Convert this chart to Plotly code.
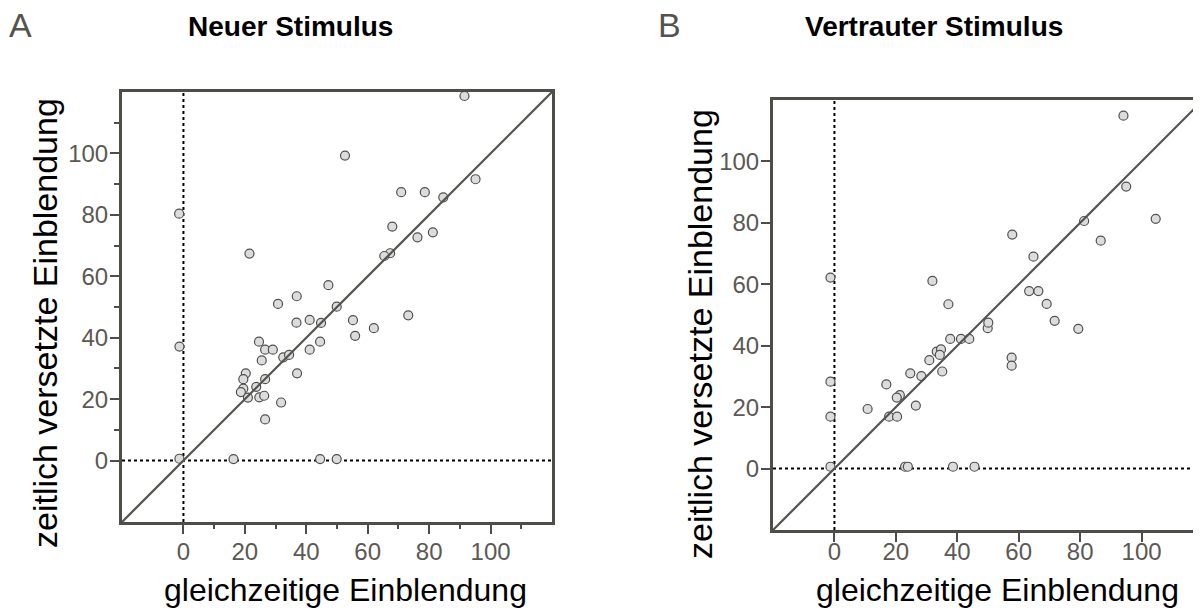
import plotly.graph_objects as go

# ---- data ----
neu_x = [-1.4, 21.5, 47.2, 36.9, 30.8, 49.9, 91.5, 52.6, 95.1, 70.9, 78.6, 84.6, 68.0, 76.2,
         81.2, 67.3, 65.4, -1.3, 36.8, 41.1, 44.8, 24.6, 26.6, 29.1, 44.5, 41.1, 25.5, 32.5,
         34.4, 20.3, 19.5, 26.6, 37.0, 19.5, 23.7, 18.7, 21.0, 24.7, 26.3, 31.8, 26.6, -1.3,
         16.3, 44.5, 49.9, 55.2, 62.0, 55.9, 73.2]
neu_y = [80.4, 67.4, 57.1, 53.5, 51.0, 50.1, 118.7, 99.3, 91.6, 87.4, 87.4, 85.7, 76.2, 72.7,
         74.3, 67.5, 66.6, 37.1, 44.9, 45.8, 44.8, 38.7, 36.1, 36.1, 38.7, 36.1, 32.6, 33.6,
         34.4, 28.4, 26.5, 26.5, 28.4, 23.4, 24.0, 22.3, 20.5, 20.6, 21.1, 18.9, 13.4, 0.6,
         0.5, 0.5, 0.5, 45.7, 43.1, 40.6, 47.3]

vert_x = [-1.3, 31.9, 37.1, 94.1, 95.0, 104.6, 81.3, 57.9, 86.7, 64.8, 63.4, 66.4, 69.1, -1.3,
          -1.3, -1.3, 37.7, 41.2, 43.9, 49.9, 50.1, 33.3, 34.7, 34.3, 30.9, 24.7, 28.3, 35.1,
          16.9, 21.3, 20.3, 10.8, 26.5, 17.8, 20.4, 23.0, 23.9, 38.6, 45.6, 71.7, 79.4, 57.7, 57.7]
vert_y = [62.2, 61.1, 53.5, 114.9, 91.8, 81.3, 80.6, 76.2, 74.2, 69.0, 57.8, 57.8, 53.6, 28.3,
          16.9, 0.6, 42.2, 42.2, 42.2, 45.7, 47.5, 38.1, 38.8, 37.0, 35.3, 31.0, 30.1, 31.6,
          27.4, 23.9, 23.1, 19.4, 20.5, 16.9, 16.9, 0.6, 0.6, 0.6, 0.6, 48.1, 45.5, 36.1, 33.5]

tick_vals = [0, 20, 40, 60, 80, 100]
tick_text = ["0", "20", "40", "60", "80", "100"]
ax_range = [-20, 120]

titles = ["Neuer Stimulus", "Vertrauter Stimulus"]
panel_letters = ["A", "B"]
x_title = "gleichzeitige Einblendung"
y_title = "zeitlich versetzte Einblendung"

# ---- layout constants ----
WIN_W, WIN_H = 1201, 608
OFF = 8  # page body margin
W, H = WIN_W - OFF, WIN_H - OFF
FRAME = "#4f4d47"
TICKC = "#5b5953"
FONT = "Liberation Sans, Arial, sans-serif"


def px(x):
    return (x - OFF) / W


def py(y):
    return 1 - (y - OFF) / H


fig = go.Figure()

marker = dict(size=9, color="#dcdcdc", line=dict(color="#505050", width=1.2))
fig.add_trace(go.Scatter(x=neu_x, y=neu_y, mode="markers", marker=marker,
                         xaxis="x", yaxis="y", showlegend=False, cliponaxis=False))
fig.add_trace(go.Scatter(x=vert_x, y=vert_y, mode="markers", marker=marker,
                         xaxis="x2", yaxis="y2", showlegend=False, cliponaxis=False))

# B's visible right edge is clipped by the window
b_right = -20 + (WIN_W - 773) / (430 / 140)

common_tick = dict(tickmode="array", tickvals=tick_vals, ticktext=tick_text,
                   ticks="outside", ticklen=9, tickwidth=2, tickcolor=FRAME,
                   tickfont=dict(family=FONT, size=24, color=TICKC),
                   showgrid=False, zeroline=False, showline=True,
                   linecolor=FRAME, linewidth=3)

fig.update_layout(
    width=W, height=H, margin=dict(l=0, r=0, t=0, b=0),
    paper_bgcolor="white", plot_bgcolor="white",
    xaxis=dict(domain=[px(122), px(552)], range=ax_range, anchor="y", mirror=True,
               ticklabelstandoff=-3,
               minor=dict(tickvals=[10, 30, 50, 70, 90, 110], ticks="outside",
                          ticklen=4, tickwidth=2, tickcolor=FRAME),
               **common_tick),
    yaxis=dict(domain=[py(522), py(92)], range=ax_range, anchor="x", mirror=True,
               ticklabelstandoff=-3,
               minor=dict(tickvals=[10, 30, 50, 70, 90, 110], ticks="outside",
                          ticklen=5, tickwidth=2, tickcolor=FRAME),
               **common_tick),
    xaxis2=dict(domain=[px(773), 1.0], range=[-20, b_right], anchor="y2", mirror=True,
                ticklabelstandoff=-11, **common_tick),
    yaxis2=dict(domain=[py(530), py(100)], range=ax_range, anchor="x2", mirror=False,
                ticklabelstandoff=-3, **common_tick),
)

shapes = []
for xr, yr, xhi in (("x", "y", 120), ("x2", "y2", b_right)):
    # dotted zero lines
    shapes.append(dict(type="line", xref=xr, yref=yr, x0=0, x1=0, y0=-20, y1=120,
                       line=dict(color="black", width=2, dash="dot"), layer="below"))
    shapes.append(dict(type="line", xref=xr, yref=yr, x0=-20, x1=xhi, y0=0, y1=0,
                       line=dict(color="black", width=2, dash="dot"), layer="below"))
    # identity diagonal
    shapes.append(dict(type="line", xref=xr, yref=yr, x0=-20, x1=xhi, y0=-20, y1=xhi,
                       line=dict(color="#55534d", width=2.2), layer="above"))
fig.update_layout(shapes=shapes)

ann = []
letter_pos = [(20, 25), (669, 25)]
title_pos = [(290, 27), (934, 27)]
xt_pos = [(345, 590), (997, 590)]
yt_pos = [(45, 323), (700, 334)]
for i in range(2):
    ann.append(dict(text=panel_letters[i], x=px(letter_pos[i][0]), y=py(letter_pos[i][1]),
                    xref="paper", yref="paper", showarrow=False, xanchor="center",
                    yanchor="middle", font=dict(family=FONT, size=34, color="#55534d")))
    ann.append(dict(text="<b>" + titles[i] + "</b>", x=px(title_pos[i][0]), y=py(title_pos[i][1]),
                    xref="paper", yref="paper", showarrow=False, xanchor="center",
                    yanchor="middle", font=dict(family=FONT, size=28, color="black")))
    ann.append(dict(text=x_title, x=px(xt_pos[i][0]), y=py(xt_pos[i][1]),
                    xref="paper", yref="paper", showarrow=False, xanchor="center",
                    yanchor="middle", font=dict(family=FONT, size=32, color="black")))
    ann.append(dict(text=y_title, x=px(yt_pos[i][0]), y=py(yt_pos[i][1]),
                    xref="paper", yref="paper", showarrow=False, xanchor="center",
                    yanchor="middle", textangle=-90,
                    font=dict(family=FONT, size=34, color="black")))
fig.update_layout(annotations=ann)

fig.write_html("out.html")
